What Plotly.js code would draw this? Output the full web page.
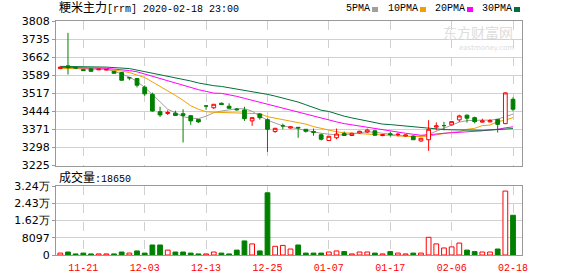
<!DOCTYPE html>
<html><head><meta charset="utf-8">
<script src="https://cdn.plot.ly/plotly-3.0.1.min.js"></script>
<style>html,body{margin:0;padding:0;background:#fff}#chart{width:578px;height:276px}</style>
</head><body><div id="chart"></div>
<script>
const dates = ['11-18','11-19','11-20','11-21','11-22','11-25','11-26','11-27','11-28','11-29',
'12-02','12-03','12-04','12-05','12-06','12-09','12-10','12-11','12-12','12-13',
'12-16','12-17','12-18','12-19','12-20','12-23','12-24','12-25','12-26','12-27',
'12-30','12-31','01-02','01-03','01-06','01-07','01-08','01-09','01-10','01-13',
'01-14','01-15','01-16','01-17','01-20','01-21','01-22','01-23','02-03','02-04',
'02-05','02-06','02-07','02-10','02-11','02-12','02-13','02-14','02-17','02-18'];

const open = [3616,3627,3621,3612,3615,3611,3610,3605,3600,3579,
3576,3541,3512,3442,3435,3436,3434,3426,3411,3465,
3458,3476,3464,3453,3449,3405,3433,3410,3362,3385,
3376,3379,3371,3362,3349,3326,3337,3354,3346,3356,
3360,3365,3346,3353,3349,3344,3344,3324,3329,3380,
3386,3389,3409,3428,3418,3400,3401,3411,3394,3492];
const high = [3624,3760,3623,3614,3616,3615,3614,3606,3601,3582,
3578,3548,3519,3462,3448,3446,3452,3428,3412,3466,
3473,3479,3476,3457,3462,3420,3435,3415,3377,3394,
3383,3380,3372,3374,3354,3344,3374,3362,3357,3365,
3374,3369,3352,3360,3357,3350,3346,3336,3408,3399,
3401,3404,3430,3431,3422,3414,3412,3413,3520,3500];
const low = [3614,3592,3616,3607,3604,3610,3609,3596,3568,3569,
3540,3506,3442,3421,3429,3426,3318,3389,3397,3450,
3453,3470,3455,3446,3405,3385,3410,3280,3357,3371,
3374,3337,3358,3345,3326,3325,3331,3345,3344,3354,
3356,3345,3343,3342,3342,3342,3328,3320,3284,3367,
3367,3386,3401,3398,3395,3398,3399,3358,3392,3444];
const close = [3622,3620,3618,3608,3605,3614,3613,3597,3569,3579,
3549,3514,3445,3429,3439,3427,3427,3405,3401,3465,
3472,3471,3456,3450,3414,3418,3418,3371,3375,3385,
3381,3377,3363,3359,3331,3343,3352,3346,3355,3363,
3368,3347,3349,3350,3351,3348,3329,3335,3371,3385,
3386,3402,3425,3416,3402,3405,3406,3391,3518,3452];
const volume = [900,1400,500,900,500,500,500,500,1400,900,
1900,900,4700,4700,2300,1400,1400,900,500,500,
1400,900,500,2300,6600,5200,1900,29200,4100,4500,
2800,4700,900,900,900,1400,1900,1600,500,1400,
1400,900,500,1600,900,500,900,900,8300,5200,
3300,3800,5600,2300,1600,1400,1400,2800,30000,18650];

const ma5 = [3621,3620,3619,3618,3616,3614,3612,3606,3595,3582,
3564,3540,3512,3480,3452,3438,3422,3416,3414,3424,
3438,3445,3450,3454,3454,3444,3424,3408,3396,3385,
3379,3374,3367,3361,3355,3351,3348,3349,3353,3357,
3361,3359,3355,3351,3346,3343,3342,3343,3351,3363,
3375,3388,3400,3406,3408,3408,3408,3412,3422,3432];
const ma10 = [3617,3617,3616,3616,3615,3614,3613,3611,3606,3600,
3590,3580,3562,3544,3528,3508,3488,3466,3452,3442,
3440,3438,3438,3437,3436,3436,3434,3422,3415,3410,
3404,3398,3392,3382,3375,3367,3361,3357,3355,3354,
3353,3351,3349,3347,3345,3343,3342,3342,3343,3349,
3355,3359,3361,3371,3375,3386,3388,3402,3408,3418];
const ma20 = [3621,3621,3620,3620,3619,3618,3617,3615,3612,3608,
3603,3594,3584,3574,3564,3556,3547,3538,3531,3524,
3517,3516,3511,3504,3496,3488,3480,3472,3464,3454,
3446,3438,3430,3422,3414,3408,3401,3394,3389,3384,
3379,3373,3367,3363,3359,3355,3351,3347,3349,3353,
3355,3357,3359,3361,3361,3365,3369,3371,3377,3381];
const ma30 = [3625,3625,3624,3624,3623,3622,3622,3620,3619,3616,
3610,3604,3596,3590,3585,3579,3575,3566,3558,3551,
3547,3544,3539,3534,3528,3523,3518,3512,3505,3497,
3490,3481,3470,3460,3448,3443,3433,3424,3417,3411,
3404,3396,3392,3390,3387,3384,3380,3377,3374,3372,
3370,3369,3368,3367,3367,3367,3368,3370,3372,3374];

const xTickLabels = ['11-21','12-03','12-13','12-25','01-07','01-17','02-06','02-18'];
const priceTickLabels = ['3225','3298','3371','3444','3517','3589','3662','3735','3808'];
const volTickLabels = ['0','8097','1.62万','2.43万','3.24万'];
const maNames = ['5PMA','10PMA','20PMA','30PMA'];
const titleName = '粳米主力';
const titleRest = '[rrm] 2020-02-18 23:00';
const volName = '成交量';
const lastVolume = 18650;

const RED = '#ff0000', GREEN = '#008000', GRID = '#d0d0d0', FRAME = '#999999';
const maColors = ['#a0a0a0', '#f0a000', '#ff00ff', '#00703a'];
const maData = [ma5, ma10, ma20, ma30];

const priceMin = Number(priceTickLabels[0]), priceMax = Number(priceTickLabels[priceTickLabels.length - 1]);
const priceStep = (priceMax - priceMin) / (priceTickLabels.length - 1);
const priceTickVals = priceTickLabels.map((_, i) => priceMin + i * priceStep);
const volMax = 32388;
const volTickVals = volTickLabels.map((_, i) => i * volMax / (volTickLabels.length - 1));

const idx = dates.map((_, i) => i);
const isUp = i => close[i] > open[i];
const volRed = i => close[i] > open[i] || (close[i] === open[i] && i > 0 && close[i] > close[i - 1]);
const pick = (arr, ids) => ids.map(i => arr[i]);
const upIdx = idx.filter(isUp), dnIdx = idx.filter(i => !isUp(i));

const traces = [];
maData.forEach((m, k) => traces.push({
  type: 'scatter', mode: 'lines', x: dates, y: m, xaxis: 'x', yaxis: 'y',
  line: {color: maColors[k], width: 1}, hoverinfo: 'skip', showlegend: false
}));
function candle(ids, col, fill) {
  return {
    type: 'candlestick', x: pick(dates, ids), open: pick(open, ids), high: pick(high, ids),
    low: pick(low, ids), close: pick(close, ids), xaxis: 'x', yaxis: 'y3',
    increasing: {line: {color: col, width: 1}, fillcolor: fill},
    decreasing: {line: {color: col, width: 1}, fillcolor: fill},
    whiskerwidth: 0, hoverinfo: 'skip', showlegend: false
  };
}
traces.push(candle(upIdx, RED, '#ffffff'));
traces.push(candle(dnIdx, GREEN, GREEN));
traces.push({
  type: 'bar', x: dates, y: volume, xaxis: 'x2', yaxis: 'y2', width: 0.62,
  marker: {color: idx.map(i => volRed(i) ? '#ffffff' : GREEN),
           line: {color: idx.map(i => volRed(i) ? RED : GREEN), width: 1}},
  hoverinfo: 'skip', showlegend: false
});

const W = 578, H = 276, L = 56, R = 56, T = 21, B = 21;
const pw = W - L - R, ph = H - T - B;
const px = p => (p - L) / pw;
const py = p => (H - B - p) / ph;
const xRange = [-0.56, 60.17];

const xBase = {
  type: 'category', categoryorder: 'array', categoryarray: dates, range: xRange,
  tickvals: xTickLabels, ticktext: xTickLabels, showgrid: true, gridcolor: GRID,
  griddash: 'dash', gridwidth: 1, showline: true, linecolor: FRAME, linewidth: 1,
  mirror: true, zeroline: false, fixedrange: true, rangeslider: {visible: false}
};
const yBase = {
  ticks: 'outside', ticklen: 3, tickcolor: FRAME, showgrid: true, gridcolor: GRID,
  showline: true, linecolor: FRAME, linewidth: 1, mirror: true, zeroline: false,
  fixedrange: true, tickfont: {family: 'DejaVu Sans', size: 11, color: '#000'}
};

const annFont = {family: "'Liberation Mono', 'Noto Sans CJK SC', monospace", size: 10, color: '#000'};
const annotations = [
  {xref: 'paper', yref: 'paper', x: px(57), y: py(9), xanchor: 'left', yanchor: 'middle', showarrow: false,
   text: '<span style="font-size:12px">' + titleName + '</span>' + titleRest, font: annFont},
  {xref: 'paper', yref: 'paper', x: px(57), y: py(178), xanchor: 'left', yanchor: 'middle', showarrow: false,
   text: '<span style="font-size:12px">' + volName + '</span>:' + lastVolume, font: annFont},
  {xref: 'paper', yref: 'paper', x: px(478), y: py(32), xanchor: 'center', yanchor: 'middle', showarrow: false,
   text: '东方财富网', font: {family: 'Noto Sans CJK SC', size: 14, color: '#dddddd'}},
  {xref: 'paper', yref: 'paper', x: px(486), y: py(48), xanchor: 'center', yanchor: 'middle', showarrow: false,
   text: 'eastmoney.com', font: {family: 'DejaVu Sans', size: 7, color: '#dddddd'}}
];
const shapes = [];
const legX = [344, 386, 433, 480];
maNames.forEach((n, k) => {
  annotations.push({xref: 'paper', yref: 'paper', x: px(legX[k]), y: py(9), xanchor: 'left', yanchor: 'middle',
    showarrow: false, text: n, font: annFont});
  const sx = legX[k] + n.length * 6 + 4;
  shapes.push({type: 'rect', xref: 'paper', yref: 'paper', x0: px(sx), x1: px(sx + 6), y0: py(12), y1: py(7),
    fillcolor: maColors[k], line: {width: 0}});
});

const layout = {
  width: W, height: H, margin: {l: L, r: R, t: T, b: B},
  paper_bgcolor: '#fff', plot_bgcolor: '#fff', showlegend: false, boxgap: 0.3,
  xaxis: Object.assign({}, xBase, {domain: [0, 1], anchor: 'y', showticklabels: false, ticks: ''}),
  xaxis2: Object.assign({}, xBase, {domain: [0, 1], anchor: 'y2', showticklabels: true, ticks: 'outside',
    ticklen: 3, tickcolor: 'rgba(0,0,0,0)', tickfont: {family: 'Liberation Mono', size: 10, color: RED}}),
  yaxis: Object.assign({}, yBase, {domain: [py(165.5), 1], anchor: 'x', range: [priceMin, priceMax],
    tickvals: priceTickVals, ticktext: priceTickLabels}),
  yaxis3: {overlaying: 'y', anchor: 'x', range: [priceMin, priceMax], visible: false, fixedrange: true},
  yaxis2: Object.assign({}, yBase, {domain: [0, py(186)], anchor: 'x2', range: [0, volMax],
    tickvals: volTickVals, ticktext: volTickLabels}),
  annotations: annotations, shapes: shapes
};
Plotly.newPlot('chart', traces, layout, {displayModeBar: false, staticPlot: true});
</script></body></html>
